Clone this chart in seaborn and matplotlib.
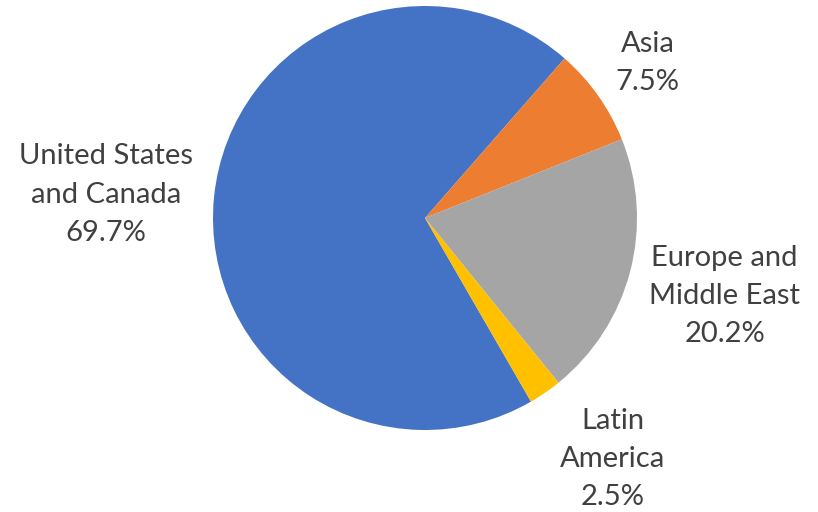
import numpy as np
import matplotlib
matplotlib.use("Agg")
import matplotlib.pyplot as plt
import seaborn as sns

regions = ["United States\nand Canada", "Asia", "Europe and\nMiddle East", "Latin\nAmerica"]
shares = [69.7, 7.5, 20.2, 2.5]
colors = ["#4472C4", "#ED7D31", "#A5A5A5", "#FFC000"]
label_dist = [1.51, 1.28, 1.46, 1.44]
label_turn = [1.4, -0.5, 0.0, 3.4]

sns.set_theme(style="white")
plt.rcParams['font.family'] = ['Lato', 'DejaVu Sans']

fig = plt.figure(figsize=(8.18, 5.12), dpi=100)
ax = fig.add_axes([0, 0, 1, 1])
wedges, _ = ax.pie(shares, colors=sns.color_palette(colors), startangle=-60,
                   counterclock=False, radius=1.0, center=(0, 0),
                   wedgeprops=dict(linewidth=0))

for w, name, val, d, t in zip(wedges, regions, shares, label_dist, label_turn):
    mid = np.deg2rad((w.theta1 + w.theta2) / 2 + t)
    ax.text(d * np.cos(mid), d * np.sin(mid), f"{name}\n{val}%",
            ha="center", va="center", fontsize=21, color="#404040",
            linespacing=1.58)

R = 212.0
ax.set_xlim(-425 / R, (818 - 425) / R)
ax.set_ylim(-(512 - 218) / R, 218 / R)
ax.set_axis_off()
fig.savefig("out.png", dpi=100)
